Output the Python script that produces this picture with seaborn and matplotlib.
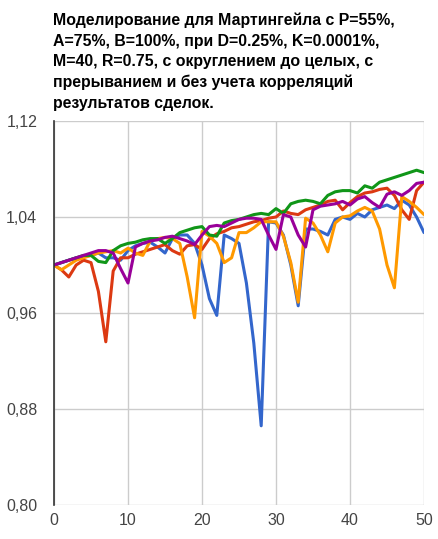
import matplotlib
matplotlib.use("Agg")
import matplotlib.pyplot as plt
import matplotlib.ticker as mticker
import numpy as np
import pandas as pd
import seaborn as sns

# trade number 0..50
trades = list(range(51))

blue = [1.000, 1.002, 1.004, 1.006, 1.007, 1.008, 1.010, 1.006, 1.006, 1.004,
        1.012, 1.016, 1.018, 1.019, 1.015, 1.010, 1.022, 1.025, 1.025, 1.018,
        1.000, 0.972, 0.958, 1.025, 1.022, 1.018, 0.985, 0.935, 0.866, 1.036,
        1.035, 1.025, 1.000, 0.966, 1.030, 1.030, 1.028, 1.025, 1.038, 1.040,
        1.038, 1.043, 1.040, 1.046, 1.048, 1.050, 1.047, 1.054, 1.050, 1.040,
        1.027]
red = [1.000, 0.996, 0.990, 1.000, 1.004, 1.002, 0.978, 0.936, 0.995, 1.006,
       1.006, 1.009, 1.011, 1.013, 1.015, 1.017, 1.012, 1.009, 1.016, 1.017,
       1.013, 1.022, 1.026, 1.028, 1.031, 1.032, 1.034, 1.036, 1.037, 1.039,
       1.040, 1.045, 1.043, 1.042, 1.046, 1.048, 1.050, 1.053, 1.054, 1.046,
       1.052, 1.057, 1.060, 1.061, 1.063, 1.064, 1.058, 1.046, 1.038, 1.062,
       1.069]
orange = [1.000, 0.996, 1.000, 1.004, 1.006, 1.008, 1.010, 1.011, 1.012, 1.010,
          1.014, 1.010, 1.008, 1.020, 1.022, 1.023, 1.022, 1.018, 0.990, 0.956,
          1.028, 1.024, 1.018, 1.002, 1.006, 1.027, 1.027, 1.031, 1.036, 1.036,
          1.036, 1.024, 1.002, 0.969, 1.039, 1.035, 1.025, 1.011, 1.035, 1.040,
          1.041, 1.045, 1.048, 1.045, 1.030, 1.000, 0.981, 1.057, 1.053, 1.048,
          1.042]
green = [1.000, 1.002, 1.004, 1.006, 1.008, 1.008, 1.003, 1.002, 1.012, 1.016,
         1.018, 1.019, 1.021, 1.022, 1.022, 1.018, 1.022, 1.027, 1.029, 1.031,
         1.032, 1.025, 1.024, 1.035, 1.037, 1.038, 1.040, 1.042, 1.043, 1.042,
         1.047, 1.043, 1.051, 1.053, 1.054, 1.053, 1.051, 1.058, 1.061, 1.062,
         1.062, 1.060, 1.066, 1.064, 1.069, 1.071, 1.073, 1.075, 1.077, 1.079,
         1.077]
purple = [1.000, 1.002, 1.004, 1.006, 1.008, 1.010, 1.012, 1.012, 1.010, 0.997,
          0.985, 1.015, 1.018, 1.020, 1.021, 1.023, 1.024, 1.022, 1.020, 1.017,
          1.025, 1.032, 1.033, 1.032, 1.035, 1.038, 1.039, 1.039, 1.038, 1.025,
          1.013, 1.042, 1.040, 1.025, 1.015, 1.046, 1.049, 1.050, 1.051, 1.053,
          1.050, 1.055, 1.057, 1.052, 1.048, 1.059, 1.061, 1.058, 1.062, 1.068,
          1.069]

series = {"s1": blue, "s2": red, "s3": orange, "s4": green, "s5": purple}
colors = ["#3366cc", "#dc3912", "#ff9900", "#109618", "#990099"]

rows = []
for name, vals in series.items():
    for x, v in zip(trades, vals):
        rows.append({"trade": x, "value": v, "run": name})
df = pd.DataFrame(rows)

title = ("Моделирование для Мартингейла с P=55%,\n"
         "A=75%, B=100%, при D=0.25%, K=0.0001%,\n"
         "M=40, R=0.75, с округлением до целых, с\n"
         "прерыванием и без учета корреляций\n"
         "результатов сделок.")

sns.set_style("white")
plt.rcParams['font.family'] = ['Liberation Sans', 'DejaVu Sans']

fig = plt.figure(figsize=(4.38, 5.39), dpi=100, facecolor='white')
ax = fig.add_axes([54/438, 34/539, 370/438, 384/539])

sns.lineplot(data=df, x="trade", y="value", hue="run", palette=colors,
             linewidth=2.2, legend=False, ax=ax, zorder=3)

ax.set_xlim(0, 50)
ax.set_ylim(0.80, 1.12)
ax.set_xticks([0, 10, 20, 30, 40, 50])
ax.set_yticks([0.80, 0.88, 0.96, 1.04, 1.12])
ax.yaxis.set_major_formatter(mticker.FuncFormatter(lambda v, p: f"{v:.2f}".replace(".", ",")))
ax.grid(True, color="#cccccc", linewidth=1)
ax.set_axisbelow(True)
for s in ["top", "right", "bottom"]:
    ax.spines[s].set_visible(False)
ax.spines["left"].set_color("#333333")
ax.spines["left"].set_linewidth(1.2)
ax.spines["left"].set_zorder(4)
ax.tick_params(axis="both", length=0, labelsize=11.5, labelcolor="#444444")
ax.tick_params(axis="y", pad=12)
ax.tick_params(axis="x", pad=6)
ax.set_xlabel("")
ax.set_ylabel("")

fig.text(53/438, 1 - 13/539, title, ha="left", va="top", fontsize=11.4,
         fontweight="bold", linespacing=1.45, color="#000000")

plt.savefig("out.png", dpi=100, facecolor='white')
